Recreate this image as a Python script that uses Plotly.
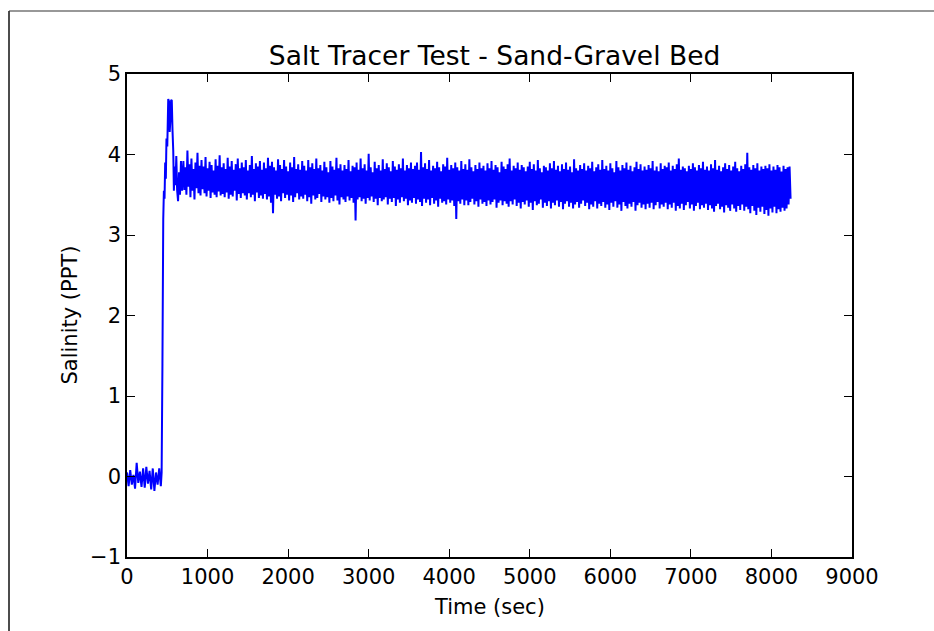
import plotly.graph_objects as go

# ---- data ----
# baseline before tracer arrival (sampled every 20 s from t=0)
base_start = 0
base_dt = 20
base_vals = [0.05, -0.12, 0.08, -0.10, 0.02, -0.15, 0.17, -0.08, 0.06, -0.13, 0.10,
             -0.14, 0.12, -0.09, 0.07, -0.16, 0.10, -0.18, 0.05, -0.10, 0.10, -0.12]

# rise and peak of the tracer front
rise_times = [430, 440, 450, 458, 466, 474, 482, 490, 500, 512, 522, 530, 540, 548,
              556, 565, 574, 582, 592, 602, 612, 622, 634, 646, 658, 670, 684]
rise_vals = [0.05, 1.4, 3.2, 3.55, 3.45, 3.9, 3.7, 4.2, 4.1, 4.69, 4.66, 4.28, 4.45, 4.68,
             4.67, 4.3, 4.05, 3.55, 3.85, 3.62, 3.98, 3.56, 3.42, 3.78, 3.50, 3.92, 3.55]

# plateau (sampled every 12.5 s from t=700)
plateau_start = 700
plateau_dt = 12.5
plateau_vals = [
    3.92, 3.56, 3.84, 3.50, 4.05, 3.60, 3.88, 3.47, 3.95, 3.55, 3.82, 3.44, 3.90, 3.58, 4.02, 3.52, 3.86, 3.49, 3.93, 3.57,
    3.85, 3.52, 3.97, 3.48, 3.83, 3.55, 3.91, 3.46, 3.87, 3.53, 3.80, 3.50, 3.94, 3.47, 3.86, 3.54, 3.99, 3.49, 3.84, 3.51,
    3.89, 3.47, 3.82, 3.53, 3.96, 3.45, 3.85, 3.50, 3.92, 3.48, 3.81, 3.55, 3.88, 3.43, 3.95, 3.51, 3.83, 3.46, 3.90, 3.52,
    3.84, 3.49, 3.93, 3.44, 3.80, 3.52, 3.87, 3.47, 3.98, 3.50, 3.82, 3.42, 3.89, 3.53, 3.85, 3.46, 3.92, 3.49, 3.81, 3.45,
    3.90, 3.51, 3.83, 3.44, 3.96, 3.48, 3.86, 3.40, 3.91, 3.27, 3.84, 3.50, 3.80, 3.45, 3.94, 3.48, 3.87, 3.42, 3.82, 3.52,
    3.93, 3.46, 3.85, 3.50, 3.79, 3.43, 3.90, 3.49, 3.84, 3.41, 3.97, 3.47, 3.82, 3.52, 3.88, 3.44, 3.81, 3.48, 3.92, 3.45,
    3.86, 3.50, 3.80, 3.42, 3.93, 3.47, 3.84, 3.39, 3.89, 3.49, 3.82, 3.44, 3.95, 3.46, 3.83, 3.51, 3.87, 3.41, 3.80, 3.48,
    3.91, 3.44, 3.84, 3.47, 3.78, 3.40, 3.92, 3.46, 3.85, 3.42, 3.81, 3.49, 3.96, 3.43, 3.83, 3.38, 3.88, 3.47, 3.80, 3.44,
    3.87, 3.41, 3.82, 3.48, 3.93, 3.43, 3.79, 3.46, 3.86, 3.40, 3.84, 3.18, 3.90, 3.44, 3.81, 3.47, 3.95, 3.42, 3.83, 3.45,
    3.88, 3.39, 3.80, 3.46, 4.01, 3.43, 3.84, 3.48, 3.78, 3.41, 3.91, 3.45, 3.83, 3.37, 3.87, 3.46, 3.80, 3.42, 3.94, 3.44,
    3.82, 3.47, 3.89, 3.38, 3.84, 3.45, 3.79, 3.41, 3.92, 3.46, 3.85, 3.36, 3.81, 3.44, 3.88, 3.40, 3.83, 3.47, 3.95, 3.42,
    3.80, 3.45, 3.87, 3.37, 3.83, 3.43, 3.90, 3.40, 3.82, 3.46, 3.86, 3.39, 3.90, 3.44, 3.81, 3.41, 4.03, 3.36, 3.84, 3.45,
    3.89, 3.40, 3.82, 3.44, 3.93, 3.37, 3.80, 3.46, 3.86, 3.39, 3.83, 3.43, 3.91, 3.35, 3.84, 3.45, 3.79, 3.40, 3.88, 3.42,
    3.85, 3.38, 3.96, 3.44, 3.81, 3.40, 3.87, 3.43, 3.83, 3.36, 3.90, 3.20, 3.84, 3.42, 3.80, 3.39, 3.92, 3.44, 3.82, 3.37,
    3.88, 3.43, 3.81, 3.37, 3.94, 3.41, 3.84, 3.45, 3.79, 3.38, 3.87, 3.42, 3.82, 3.35, 3.90, 3.44, 3.83, 3.39, 3.86, 3.41,
    3.80, 3.36, 3.89, 3.43, 3.83, 3.38, 3.92, 3.41, 3.81, 3.44, 3.87, 3.34, 3.84, 3.40, 3.78, 3.43, 3.91, 3.37, 3.85, 3.42,
    3.82, 3.39, 3.88, 3.35, 3.95, 3.42, 3.80, 3.38, 3.86, 3.44, 3.83, 3.36, 3.90, 3.40, 3.81, 3.33, 3.87, 3.41, 3.84, 3.38,
    3.79, 3.43, 3.85, 3.35, 3.91, 3.40, 3.82, 3.31, 3.88, 3.42, 3.80, 3.37, 3.93, 3.39, 3.83, 3.44, 3.78, 3.34, 3.86, 3.40,
    3.84, 3.36, 3.80, 3.42, 3.89, 3.33, 3.83, 3.40, 3.92, 3.37, 3.81, 3.43, 3.86, 3.35, 3.79, 3.41, 3.88, 3.32, 3.82, 3.39,
    3.90, 3.42, 3.81, 3.35, 3.85, 3.40, 3.78, 3.33, 3.94, 3.38, 3.83, 3.41, 3.80, 3.34, 3.87, 3.39, 3.82, 3.43, 3.89, 3.36,
    3.80, 3.40, 3.86, 3.32, 3.83, 3.38, 3.91, 3.35, 3.79, 3.42, 3.84, 3.33, 3.88, 3.39, 3.81, 3.36, 3.93, 3.41, 3.82, 3.34,
    3.86, 3.38, 3.80, 3.31, 3.89, 3.40, 3.83, 3.35, 3.78, 3.42, 3.92, 3.34, 3.84, 3.38, 3.80, 3.30, 3.87, 3.41, 3.83, 3.36,
    3.90, 3.33, 3.81, 3.39, 3.86, 3.35, 3.79, 3.41, 3.84, 3.30, 3.91, 3.37, 3.82, 3.40, 3.88, 3.34, 3.80, 3.38, 3.85, 3.32,
    3.81, 3.39, 3.87, 3.34, 3.83, 3.40, 3.92, 3.32, 3.80, 3.37, 3.85, 3.41, 3.79, 3.33, 3.89, 3.38, 3.82, 3.35, 3.86, 3.40,
    3.84, 3.32, 3.90, 3.38, 3.80, 3.34, 3.86, 3.40, 3.82, 3.30, 3.88, 3.36, 3.95, 3.33, 3.81, 3.39, 3.85, 3.31, 3.83, 3.37,
    3.79, 3.41, 3.86, 3.33, 3.82, 3.38, 3.89, 3.30, 3.84, 3.36, 3.80, 3.40, 3.87, 3.32, 3.83, 3.37, 3.91, 3.34, 3.81, 3.39,
    3.85, 3.31, 3.80, 3.37, 3.88, 3.33, 3.83, 3.29, 3.93, 3.36, 3.81, 3.39, 3.86, 3.32, 3.79, 3.35, 3.84, 3.28, 3.89, 3.37,
    3.82, 3.34, 3.87, 3.30, 3.80, 3.38, 3.85, 3.33, 3.91, 3.29, 3.83, 3.36, 3.79, 3.31, 3.86, 3.38, 3.82, 3.30, 3.88, 3.35,
    4.02, 3.32, 3.84, 3.27, 3.81, 3.36, 3.87, 3.30, 3.83, 3.25, 3.89, 3.34, 3.80, 3.29, 3.85, 3.35, 3.82, 3.26, 3.86, 3.31,
    3.83, 3.24, 3.88, 3.33, 3.80, 3.28, 3.85, 3.35, 3.81, 3.27, 3.87, 3.32, 3.84, 3.29, 3.79, 3.34, 3.86, 3.30, 3.82, 3.33,
    3.84, 3.38, 3.85, 3.45,
]

x_ticks = [0, 1000, 2000, 3000, 4000, 5000, 6000, 7000, 8000, 9000]
y_ticks = [-1, 0, 1, 2, 3, 4, 5]

title_text = "Salt Tracer Test - Sand-Gravel Bed"
x_label = "Time (sec)"
y_label = "Salinity (PPT)"

# ---- assemble series ----
times = [base_start + i * base_dt for i in range(len(base_vals))]
times += rise_times
times += [plateau_start + i * plateau_dt for i in range(len(plateau_vals))]
values = base_vals + rise_vals + plateau_vals

FONT = "DejaVu Sans"

fig = go.Figure(go.Scatter(x=times, y=values, mode="lines",
                           line=dict(color="#0000ff", width=2, simplify=False),
                           showlegend=False))

axis_common = dict(
    ticks="inside", ticklen=8, tickwidth=1, tickcolor="black",
    showline=True, linewidth=1.6, linecolor="black", mirror="ticks",
    showgrid=False, zeroline=False,
    tickfont=dict(family=FONT, size=21, color="black"),
)

W, H = 934, 631
L, R, T, B = 127, 82, 74, 74
pw, ph = W - L - R, H - T - B


def px(xp):
    return (xp - L) / pw


def py(yp):
    return (H - B - yp) / ph


fig.update_layout(
    width=W, height=H,
    margin=dict(l=L, r=R, t=T, b=B),
    paper_bgcolor="white", plot_bgcolor="white",
    font=dict(family=FONT, color="black"),
    xaxis=dict(range=[0, 9000], tickvals=x_ticks, **axis_common),
    yaxis=dict(range=[-1, 5], tickvals=y_ticks, **axis_common),
    title=dict(text=title_text, font=dict(family=FONT, size=26.5, color="black"),
               x=0.507, xanchor="center", xref="paper",
               y=1, yanchor="bottom", yref="paper", pad=dict(b=9)),
    annotations=[
        dict(text=x_label, xref="paper", yref="paper", x=0.5, y=py(607),
             xanchor="center", yanchor="middle", showarrow=False,
             font=dict(family=FONT, size=21, color="black")),
        dict(text=y_label, xref="paper", yref="paper", x=px(69), y=0.5,
             xanchor="center", yanchor="middle", showarrow=False, textangle=-90,
             font=dict(family=FONT, size=21, color="black")),
    ],
    shapes=[
        dict(type="line", xref="paper", yref="paper", x0=px(9), x1=px(9),
             y0=py(11), y1=py(640), line=dict(color="#111111", width=1.5)),
        dict(type="line", xref="paper", yref="paper", x0=px(9), x1=px(940),
             y0=py(11), y1=py(11), line=dict(color="#333333", width=1.2)),
    ],
)

fig.write_html("out.html")
